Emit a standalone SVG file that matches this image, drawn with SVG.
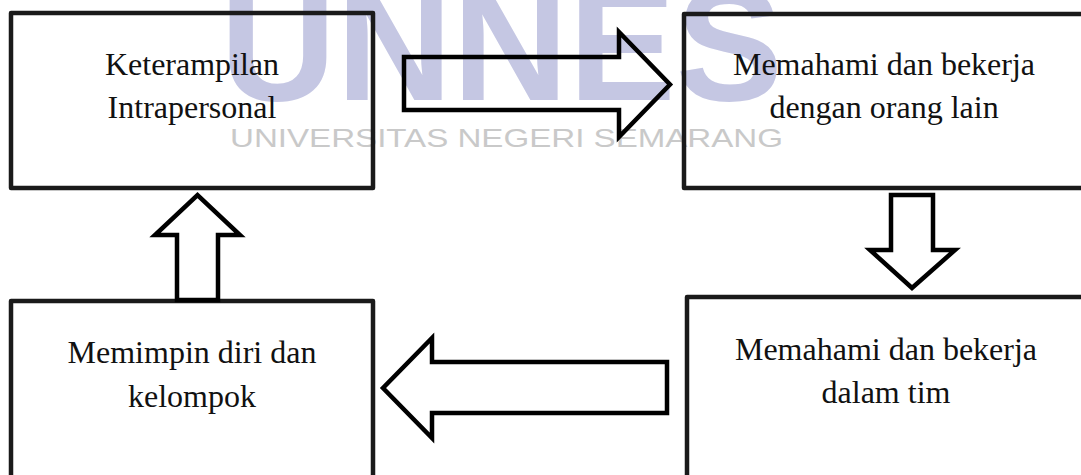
<svg xmlns="http://www.w3.org/2000/svg" width="1081" height="475" viewBox="0 0 1081 475">
  <style>
    .box { fill: none; stroke: #1a1a1a; stroke-width: 4.5; stroke-linejoin: round; }
    .arrow { fill: none; stroke: #000; stroke-width: 4.5; stroke-linejoin: miter; stroke-miterlimit: 10; }
    .label { font-family: "Liberation Serif", "Times New Roman", serif; font-size: 32px; fill: #111; text-anchor: middle; }
    .wm-big { font-family: "Liberation Sans", Arial, sans-serif; font-weight: bold; font-size: 161px; fill: #c5c7e3; }
    .wm-small { font-family: "Liberation Sans", Arial, sans-serif; font-size: 26px; fill: #c9c9c9; }
  </style>
  <rect width="1081" height="475" fill="#fff"/>

  <!-- background watermark -->
  <g id="watermark">
    <text class="wm-big" x="220" y="100" textLength="563" lengthAdjust="spacingAndGlyphs">UNNES</text>
    <text class="wm-small" x="230" y="147" textLength="553" lengthAdjust="spacingAndGlyphs">UNIVERSITAS NEGERI SEMARANG</text>
  </g>

  <g id="node-intrapersonal">
    <rect class="box" x="11" y="13" width="362" height="175"/>
    <text class="label" x="192" y="75">Keterampilan</text>
    <text class="label" x="192" y="118">Intrapersonal</text>
  </g>

  <g id="node-orang-lain">
    <rect class="box" x="684" y="14" width="400" height="174"/>
    <text class="label" x="884" y="75">Memahami dan bekerja</text>
    <text class="label" x="884" y="118">dengan orang lain</text>
  </g>

  <g id="node-tim">
    <rect class="box" x="687" y="297" width="400" height="200"/>
    <text class="label" x="886" y="360">Memahami dan bekerja</text>
    <text class="label" x="886" y="403">dalam tim</text>
  </g>

  <g id="node-memimpin">
    <rect class="box" x="11" y="301" width="362" height="200"/>
    <text class="label" x="192" y="363">Memimpin diri dan</text>
    <text class="label" x="192" y="407">kelompok</text>
  </g>

  <!-- block arrows linking the four stages -->
  <g id="connectors">
    <polygon class="arrow" points="404,57 619,57 619,32 670,84.5 619,137 619,110 404,110"/>
    <polygon class="arrow" points="891,195 933,195 933,250 955,250 912,288 870,250 891,250"/>
    <polygon class="arrow" points="667,362 432,362 432,338 383,388 432,438 432,413 667,413"/>
    <polygon class="arrow" points="177,300 177,235 155,235 197.5,195 240,235 218,235 218,300"/>
  </g>
</svg>
